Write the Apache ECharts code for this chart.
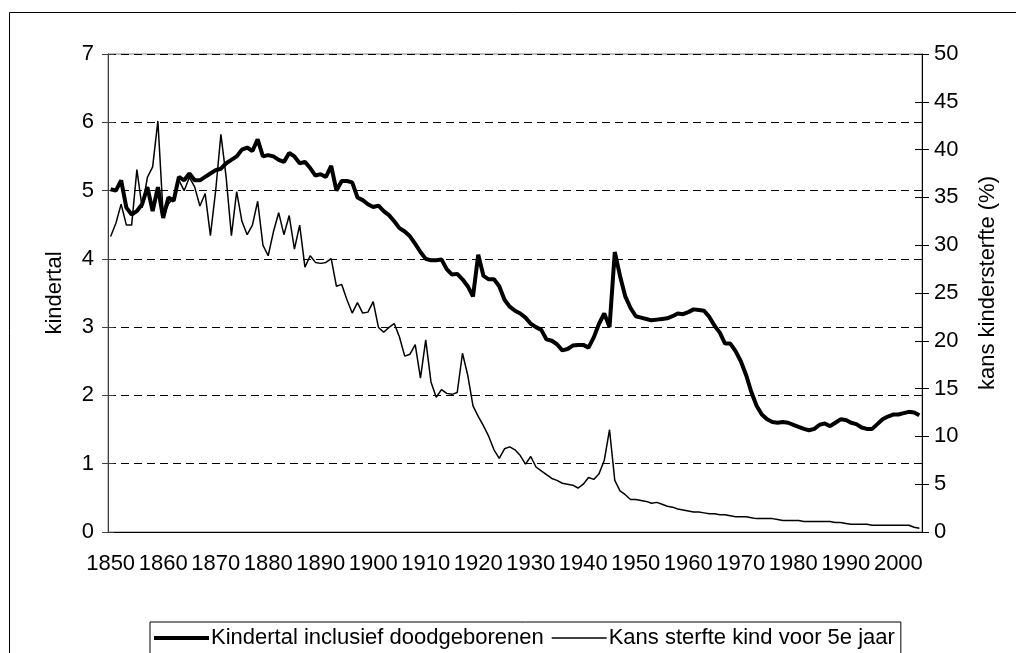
<!DOCTYPE html>
<html>
<head>
<meta charset="utf-8">
<script src="https://cdn.jsdelivr.net/npm/echarts@6/dist/echarts.min.js"></script>
<style>
  html, body { margin: 0; padding: 0; background: #fff; }
  #chart { width: 1016px; height: 653px; }
</style>
</head>
<body>
<div id="chart"></div>
<script>
// jaartallen 1850 - 2004
const years = [];
for (let y = 1850; y <= 2004; y++) years.push(String(y));

// kindertal inclusief doodgeborenen (linker as)
const kindertal = [
  5.02, 5.0, 5.15, 4.75, 4.65, 4.7, 4.8, 5.05, 4.7, 5.05,
  4.6, 4.9, 4.85, 5.2, 5.15, 5.25, 5.15, 5.15, 5.2, 5.25,
  5.3, 5.32, 5.4, 5.45, 5.5, 5.6, 5.63, 5.58, 5.75, 5.5,
  5.52, 5.5, 5.45, 5.42, 5.55, 5.5, 5.4, 5.42, 5.33, 5.22,
  5.24, 5.2, 5.36, 5.0, 5.14, 5.14, 5.12, 4.9, 4.86, 4.8,
  4.76, 4.78, 4.7, 4.64, 4.55, 4.45, 4.4, 4.33, 4.22, 4.1,
  4.0, 3.98, 3.98, 3.99, 3.85, 3.77, 3.78, 3.7, 3.6, 3.45,
  4.06, 3.75, 3.7, 3.7, 3.6, 3.4, 3.3, 3.24, 3.2, 3.14,
  3.05, 3.0, 2.96, 2.82, 2.8, 2.75, 2.66, 2.68, 2.73, 2.74,
  2.74, 2.7, 2.85, 3.05, 3.2, 3.0, 4.1, 3.75, 3.45, 3.28,
  3.16, 3.14, 3.12, 3.1, 3.11, 3.12, 3.13, 3.16, 3.2, 3.19,
  3.22, 3.26, 3.25, 3.24, 3.15, 3.02, 2.92, 2.76, 2.76, 2.65,
  2.5, 2.3, 2.05, 1.85, 1.72, 1.65, 1.61, 1.6, 1.61, 1.6,
  1.57, 1.54, 1.51, 1.49, 1.51, 1.57, 1.59, 1.55, 1.6, 1.65,
  1.64, 1.6, 1.58, 1.53, 1.51, 1.51, 1.58, 1.65, 1.69, 1.72,
  1.72, 1.74, 1.76, 1.75, 1.71
];

// kans sterfte kind voor 5e jaar, % (rechter as)
const sterfte = [
  30.9, 32.3, 34.3, 32.1, 32.1, 37.9, 33.9, 37.1, 38.2, 43.0,
  33.2, 34.3, 35.0, 36.8, 35.7, 37.1, 36.1, 34.1, 35.4, 31.0,
  35.7, 41.6, 37.1, 31.0, 35.6, 32.5, 31.1, 32.1, 34.6, 30.0,
  28.9, 31.4, 33.4, 31.1, 33.1, 29.6, 32.1, 27.7, 28.9, 28.2,
  28.1, 28.2, 28.6, 25.7, 25.9, 24.3, 22.9, 24.0, 22.9, 23.0,
  24.1, 21.4, 20.9, 21.4, 21.8, 20.4, 18.4, 18.6, 19.6, 16.1,
  20.1, 15.7, 14.1, 14.9, 14.5, 14.4, 14.6, 18.7, 16.4, 13.2,
  12.1, 11.1, 10.0, 8.6, 7.7, 8.7, 8.9, 8.6, 8.0, 7.1,
  7.9, 6.8, 6.4, 6.0, 5.6, 5.4, 5.1, 5.0, 4.9, 4.6,
  5.0, 5.7, 5.5, 6.1, 7.5, 10.7, 5.4, 4.3, 3.9, 3.4,
  3.4, 3.3, 3.2, 3.0, 3.1, 2.9, 2.7, 2.6, 2.4, 2.3,
  2.2, 2.1, 2.1, 2.0, 1.9, 1.9, 1.8, 1.8, 1.7, 1.6,
  1.6, 1.6, 1.5, 1.4, 1.4, 1.4, 1.4, 1.3, 1.2, 1.2,
  1.2, 1.2, 1.1, 1.1, 1.1, 1.1, 1.1, 1.1, 1.0, 1.0,
  0.9, 0.8, 0.8, 0.8, 0.8, 0.7, 0.7, 0.7, 0.7, 0.7,
  0.7, 0.7, 0.7, 0.5, 0.4
];

const leftTicks = [0, 7, 1];   // min, max, interval
const rightTicks = [0, 50, 5];

const font = "'Liberation Sans', Arial, sans-serif";
const txt = { color: '#000', fontFamily: font, fontSize: 22 };

const chart = echarts.init(document.getElementById('chart'));

const option = {
  animation: false,
  backgroundColor: '#fff',
  textStyle: { fontFamily: font },
  graphic: [
    {
      type: 'rect',
      silent: true,
      shape: { x: 9.5, y: 12.5, width: 1100, height: 700 },
      style: { fill: 'none', stroke: '#000', lineWidth: 1 }
    }
  ],
  grid: {
    left: 108, right: 94, top: 54, bottom: 121,
    show: true, borderColor: '#808080', borderWidth: 1
  },
  legend: {
    left: 150, top: 622,
    itemWidth: 55, itemHeight: 14, itemGap: 8,
    padding: [5, 6, 14, 4],
    borderColor: '#000', borderWidth: 1,
    textStyle: Object.assign({}, txt, { padding: [0, 0, 0, -3] }),
    data: [
      { name: 'Kindertal inclusief doodgeborenen', icon: 'path://M0,0H55V4H0Z' },
      { name: 'Kans sterfte kind voor 5e jaar', icon: 'path://M0,0H55V1.5H0Z' }
    ]
  },
  xAxis: [
    {
      type: 'category', data: years, boundaryGap: true, position: 'bottom',
      axisLine: { lineStyle: { color: '#000', width: 1 } },
      axisTick: { interval: 9, length: 6, lineStyle: { color: '#000' } },
      axisLabel: Object.assign({ interval: 9, margin: 21 }, txt),
      splitLine: { show: false }
    },
    {
      type: 'category', data: years, boundaryGap: true, position: 'bottom',
      axisLine: { show: false },
      axisTick: { inside: true, interval: 9, length: 6, lineStyle: { color: '#000' } },
      axisLabel: { show: false },
      splitLine: { show: false }
    }
  ],
  yAxis: [
    {
      type: 'value', position: 'left',
      min: leftTicks[0], max: leftTicks[1], interval: leftTicks[2],
      name: 'kindertal', nameLocation: 'middle', nameGap: 42, nameRotate: 90,
      nameTextStyle: txt,
      axisLine: { show: true, lineStyle: { color: '#404040' } },
      axisTick: { show: true, length: 6, lineStyle: { color: '#404040' } },
      axisLabel: Object.assign({ margin: 14 }, txt),
      splitLine: { show: true, lineStyle: { color: '#000', type: [8, 5], width: 1 } }
    },
    {
      type: 'value', position: 'right',
      min: rightTicks[0], max: rightTicks[1], interval: rightTicks[2],
      name: 'kans kindersterfte (%)', nameLocation: 'middle', nameGap: 55, nameRotate: 90,
      nameTextStyle: Object.assign({}, txt, { padding: [0, 0, 0, 20] }),
      axisLine: { show: true, lineStyle: { color: '#000' } },
      axisTick: { show: true, length: 7, lineStyle: { color: '#000' } },
      axisLabel: Object.assign({ margin: 12 }, txt),
      splitLine: { show: false }
    },
    {
      type: 'value', position: 'left',
      min: leftTicks[0], max: leftTicks[1], interval: leftTicks[2],
      axisLine: { show: false },
      axisTick: { show: true, inside: true, length: 6, lineStyle: { color: '#404040' } },
      axisLabel: { show: false },
      splitLine: { show: false }
    },
    {
      type: 'value', position: 'right',
      min: rightTicks[0], max: rightTicks[1], interval: rightTicks[2],
      axisLine: { show: false },
      axisTick: { show: true, inside: true, length: 7, lineStyle: { color: '#000' } },
      axisLabel: { show: false },
      splitLine: { show: false }
    }
  ],
  series: [
    {
      name: 'Kindertal inclusief doodgeborenen',
      type: 'line', xAxisIndex: 0, yAxisIndex: 0,
      data: kindertal,
      symbol: 'none',
      lineStyle: { color: '#000', width: 4 },
      itemStyle: { color: '#000' },
      z: 3
    },
    {
      name: 'Kans sterfte kind voor 5e jaar',
      type: 'line', xAxisIndex: 0, yAxisIndex: 1,
      data: sterfte,
      symbol: 'none',
      lineStyle: { color: '#000', width: 1.5 },
      itemStyle: { color: '#000' },
      z: 2
    }
  ]
};

chart.setOption(option);
</script>
</body>
</html>
